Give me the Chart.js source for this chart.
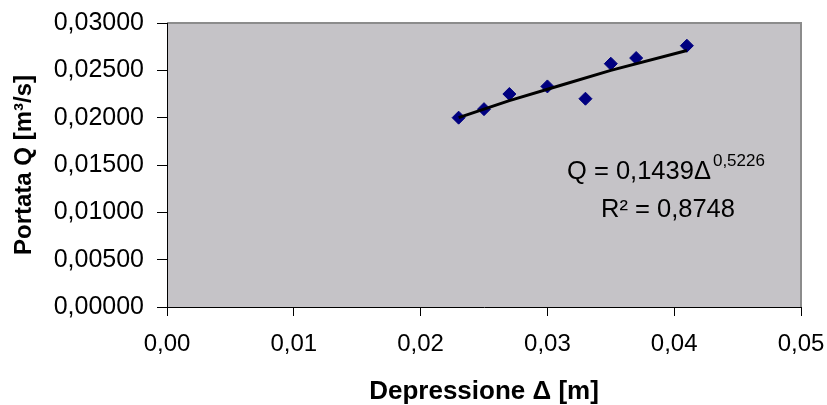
<!DOCTYPE html>
<html>
<head>
<meta charset="utf-8">
<script src="https://cdn.jsdelivr.net/npm/chart.js@4"></script>
<style>
  html, body { margin: 0; padding: 0; background: #ffffff; }
  #wrap { width: 827px; height: 405px; position: relative; }
</style>
</head>
<body>
<div id="wrap"><canvas id="c" width="827" height="405"></canvas></div>
<script>
// Measured points: Depressione Δ [m] vs Portata Q [m³/s]
const deltaValues = [0.023, 0.025, 0.027, 0.030, 0.033, 0.035, 0.037, 0.041];
const flowValues  = [0.0200, 0.0209, 0.0225, 0.0233, 0.0220, 0.0257, 0.0263, 0.0276];

// Power trendline
const trendDelta = [0.023, 0.027, 0.031, 0.035, 0.041];
const trendFlow  = [0.0200, 0.0218, 0.0234, 0.0250, 0.0271];

const xTickLabels = ['0,00', '0,01', '0,02', '0,03', '0,04', '0,05'];
const yTickLabels = ['0,00000', '0,00500', '0,01000', '0,01500', '0,02000', '0,02500', '0,03000'];

const xTitle = 'Depressione \u0394 [m]';
const yTitle = 'Portata Q [m\u00B3/s]';
const eqMain = 'Q = 0,1439\u0394';
const eqExp = '0,5226';
const r2Text = 'R\u00B2 = 0,8748';

const FONT = "'Liberation Sans', Arial, sans-serif";

const plotBg = {
  id: 'plotBg',
  beforeDraw(chart) {
    const {ctx, chartArea: a} = chart;
    ctx.save();
    ctx.fillStyle = '#c5c3c7';
    ctx.fillRect(a.left, a.top, a.right - a.left, a.bottom - a.top);
    ctx.strokeStyle = '#8c8c8c';
    ctx.lineWidth = 2;
    ctx.beginPath();
    ctx.moveTo(a.left, a.top);
    ctx.lineTo(a.right, a.top);
    ctx.lineTo(a.right, a.bottom);
    ctx.stroke();
    ctx.restore();
  }
};

const equation = {
  id: 'equation',
  afterDraw(chart) {
    const ctx = chart.ctx;
    ctx.save();
    ctx.fillStyle = '#000';
    ctx.textBaseline = 'alphabetic';
    ctx.textAlign = 'left';
    ctx.font = '25.5px ' + FONT;
    const x1 = 567, y1 = 179;
    ctx.fillText(eqMain, x1, y1);
    const w = ctx.measureText(eqMain).width;
    ctx.font = '17px ' + FONT;
    ctx.fillText(eqExp, x1 + w + 2, y1 - 13);
    ctx.font = '25.5px ' + FONT;
    ctx.fillText(r2Text, 601, 217);
    ctx.restore();
  }
};

new Chart(document.getElementById('c'), {
  type: 'scatter',
  data: {
    datasets: [
      {
        label: 'trend',
        data: trendDelta.map((x, i) => ({x, y: trendFlow[i]})),
        showLine: true,
        borderColor: '#000000',
        borderWidth: 3,
        pointRadius: 0,
        fill: false,
        order: 0
      },
      {
        label: 'Q',
        data: deltaValues.map((x, i) => ({x, y: flowValues[i]})),
        pointStyle: 'rectRot',
        pointRadius: 6.5,
        backgroundColor: '#000080',
        borderColor: '#000080',
        borderWidth: 1,
        showLine: false,
        order: 1
      }
    ]
  },
  options: {
    responsive: false,
    animation: false,
    events: [],
    layout: { padding: { left: 0, right: 26, top: 23, bottom: 0 } },
    plugins: { legend: { display: false }, tooltip: { enabled: false } },
    scales: {
      x: {
        type: 'linear',
        min: 0, max: 0.05,
        afterFit(s) { s.height = 98; s.paddingLeft = 0; s.paddingRight = 0; },
        ticks: {
          stepSize: 0.01,
          autoSkip: false,
          maxRotation: 0,
          padding: 14,
          color: '#000',
          font: { family: FONT, size: 24 },
          callback: (v, i) => xTickLabels[i]
        },
        grid: { display: true, drawOnChartArea: false, drawTicks: true, tickLength: 9, color: '#000', lineWidth: 1 },
        border: { display: true, color: '#000', width: 1 },
        title: {
          display: true, text: xTitle, color: '#000',
          font: { family: FONT, size: 26, weight: 'bold', lineHeight: 1 },
          padding: { top: 0, bottom: 0 }
        }
      },
      y: {
        type: 'linear',
        min: 0, max: 0.03,
        afterFit(s) { s.width = 167; s.paddingTop = 0; s.paddingBottom = 0; },
        ticks: {
          stepSize: 0.005,
          autoSkip: false,
          padding: 13,
          color: '#000',
          font: { family: FONT, size: 25 },
          callback: (v, i) => yTickLabels[i]
        },
        grid: { display: true, drawOnChartArea: false, drawTicks: true, tickLength: 10, color: '#000', lineWidth: 1 },
        border: { display: true, color: '#000', width: 1 },
        title: {
          display: true, text: yTitle, color: '#000',
          font: { family: FONT, size: 24, weight: 'bold' },
          padding: { top: 10, bottom: 0 }
        }
      }
    }
  },
  plugins: [plotBg, equation]
});
</script>
</body>
</html>
